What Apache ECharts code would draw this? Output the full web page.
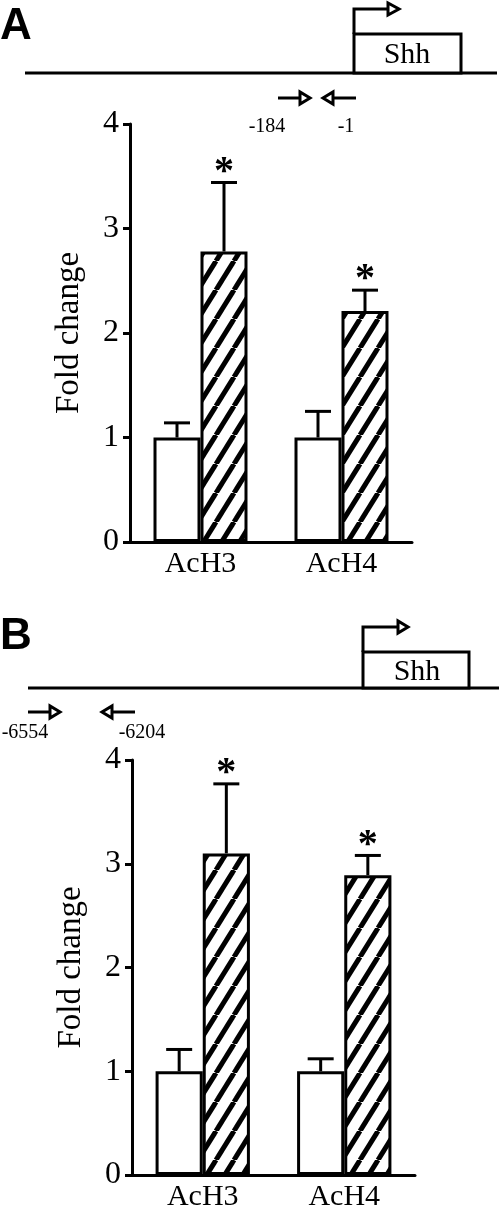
<!DOCTYPE html>
<html lang="en">
<head>
    <meta charset="UTF-8">
    <title>Shh ChIP fold change</title>
    <style>
        html, body { margin: 0; padding: 0; background: #fff; }
        #main { width: 500px; height: 1212px; }
    </style>
</head>
<body>
    <div id="main"></div>
    <script src="https://cdn.jsdelivr.net/npm/echarts@6/dist/echarts.min.js"></script>
    <script>
        // data
        var categories = ['AcH3', 'AcH4'];
        var yTicks = [0, 1, 2, 3, 4];

        // panel A: promoter region (-184 / -1)
        var aControl = [1.0, 1.0];
        var aControlErr = [0.14, 0.25];
        var aTreated = [2.78, 2.21];
        var aTreatedErr = [0.66, 0.20];
        var aSignif = [1, 1];

        // panel B: upstream region (-6554 / -6204)
        var bControl = [1.0, 1.0];
        var bControlErr = [0.21, 0.12];
        var bTreated = [3.10, 2.89];
        var bTreatedErr = [0.67, 0.19];
        var bSignif = [1, 1];

        var serif = '"Liberation Serif", "Times New Roman", serif';

        /* hatch tile: "/" stripes */
        function makeHatch() {
            var w = 18, h = 29;
            var c = document.createElement('canvas');
            c.width = w; c.height = h;
            var ctx = c.getContext('2d');
            ctx.fillStyle = '#fff';
            ctx.fillRect(0, 0, w, h);
            ctx.strokeStyle = '#000';
            ctx.lineWidth = 5;
            [-w, 0, w].forEach(function (dx) {
                ctx.beginPath();
                ctx.moveTo(dx, h);
                ctx.lineTo(dx + w, 0);
                ctx.stroke();
            });
            return c;
        }
        var hatch = { image: makeHatch(), repeat: 'repeat' };

        function errRows(ctrl, ctrlErr, trt, trtErr, sig) {
            var rows = [];
            for (var i = 0; i < categories.length; i++) {
                rows.push([i, 0, ctrl[i], ctrlErr[i], 0]);
                rows.push([i, 1, trt[i], trtErr[i], sig[i]]);
            }
            return rows;
        }

        function renderErr(params, api) {
            var cat = api.value(0), side = api.value(1);
            var mean = api.value(2), err = api.value(3), sig = api.value(4);
            var band = api.size([1, 0])[0];
            var cx = api.coord([cat, 0])[0] + (side === 0 ? -1 : 1) * band / 6;
            var yBase = api.coord([cat, mean])[1];
            var yTop = api.coord([cat, mean + err])[1];
            var ls = { stroke: '#000', lineWidth: 3 };
            var kids = [
                { type: 'line', shape: { x1: cx, y1: yBase, x2: cx, y2: yTop }, style: ls },
                { type: 'line', shape: { x1: cx - 13, y1: yTop, x2: cx + 13, y2: yTop }, style: ls }
            ];
            if (sig) {
                kids.push({
                    type: 'text',
                    style: {
                        text: '*', x: cx, y: yTop - 10,
                        font: 'bold 40px ' + serif, fill: '#000',
                        textAlign: 'center', textVerticalAlign: 'middle',
                        align: 'center', verticalAlign: 'middle'
                    }
                });
            }
            return { type: 'group', children: kids };
        }

        function yAxisCfg(gi) {
            return {
                type: 'value', gridIndex: gi,
                min: yTicks[0], max: yTicks[yTicks.length - 1], interval: 1,
                name: 'Fold change', nameLocation: 'middle', nameGap: 44,
                nameTextStyle: { fontFamily: serif, fontSize: 33, color: '#000' },
                splitLine: { show: false },
                axisLine: { show: true, lineStyle: { color: '#000', width: 3 } },
                axisTick: { show: true, length: 7, lineStyle: { color: '#000', width: 3 } },
                axisLabel: { fontFamily: serif, fontSize: 32, color: '#000', margin: 11 }
            };
        }

        function xAxisCfg(gi) {
            return {
                type: 'category', gridIndex: gi, data: categories,
                axisTick: { show: false },
                axisLine: { lineStyle: { color: '#000', width: 3 } },
                axisLabel: { fontFamily: serif, fontSize: 30, color: '#000', margin: 7 }
            };
        }

        function barSeries(gi, vals, filled) {
            return {
                type: 'bar', xAxisIndex: gi, yAxisIndex: gi,
                data: vals, barWidth: '33.33%', barGap: '0%',
                silent: true,
                itemStyle: { color: filled ? hatch : '#fff', borderColor: '#000', borderWidth: 3 }
            };
        }

        function errSeries(gi, rows) {
            return {
                type: 'custom', xAxisIndex: gi, yAxisIndex: gi,
                data: rows, renderItem: renderErr, clip: false, z: 5, silent: true
            };
        }

        /* gene diagrams */
        var thick = { stroke: '#000', lineWidth: 3, fill: null };
        function tri(pts) {
            return { type: 'polygon', shape: { points: pts }, style: { stroke: '#000', lineWidth: 3, fill: '#fff' } };
        }
        function txt(s, x, y, font, align) {
            return {
                type: 'text',
                style: {
                    text: s, x: x, y: y, font: font, fill: '#000',
                    textAlign: align || 'center', textVerticalAlign: 'middle',
                    align: align || 'center', verticalAlign: 'middle'
                }
            };
        }
        var small = '20px ' + serif;
        var gene = '30px ' + serif;
        var letter = 'bold 44px "Liberation Sans", Arial, sans-serif';

        var graphics = [
            // panel A
            txt('A', 0, 27, letter, 'left'),
            { type: 'line', shape: { x1: 25, y1: 73, x2: 497, y2: 73 }, style: thick },
            { type: 'rect', shape: { x: 354, y: 34, width: 107, height: 39 }, style: { stroke: '#000', lineWidth: 3, fill: '#fff' } },
            { type: 'polyline', shape: { points: [[354, 34], [354, 9], [388, 9]] }, style: thick },
            tri([[388, 3], [388, 15], [399, 9]]),
            txt('Shh', 407, 55, gene),
            { type: 'line', shape: { x1: 278, y1: 98, x2: 300, y2: 98 }, style: thick },
            tri([[300, 92], [300, 104], [310, 98]]),
            { type: 'line', shape: { x1: 356, y1: 98, x2: 333, y2: 98 }, style: thick },
            tri([[333, 92], [333, 104], [323, 98]]),
            txt('-184', 267, 127, small),
            txt('-1', 346, 127, small),

            // panel B
            txt('B', 0, 637, letter, 'left'),
            { type: 'line', shape: { x1: 28, y1: 688, x2: 499, y2: 688 }, style: thick },
            { type: 'rect', shape: { x: 363, y: 652, width: 106, height: 36 }, style: { stroke: '#000', lineWidth: 3, fill: '#fff' } },
            { type: 'polyline', shape: { points: [[363, 652], [363, 627], [398, 627]] }, style: thick },
            tri([[398, 621], [398, 633], [408, 627]]),
            txt('Shh', 417, 672, gene),
            { type: 'line', shape: { x1: 28, y1: 712, x2: 50, y2: 712 }, style: thick },
            tri([[50, 706], [50, 718], [60, 712]]),
            { type: 'line', shape: { x1: 135, y1: 712, x2: 112, y2: 712 }, style: thick },
            tri([[112, 706], [112, 718], [102, 712]]),
            txt('-6554', 25, 733, small),
            txt('-6204', 142, 733, small)
        ];

        var myChart = echarts.init(document.getElementById('main'));
        var option = {
            animation: false,
            backgroundColor: '#fff',
            grid: [
                { left: 130, right: 88, top: 124, height: 418 },
                { left: 132, right: 85, top: 760, height: 416 }
            ],
            xAxis: [xAxisCfg(0), xAxisCfg(1)],
            yAxis: [yAxisCfg(0), yAxisCfg(1)],
            series: [
                barSeries(0, aControl, false),
                barSeries(0, aTreated, true),
                errSeries(0, errRows(aControl, aControlErr, aTreated, aTreatedErr, aSignif)),
                barSeries(1, bControl, false),
                barSeries(1, bTreated, true),
                errSeries(1, errRows(bControl, bControlErr, bTreated, bTreatedErr, bSignif))
            ],
            graphic: graphics
        };
        myChart.setOption(option);
    </script>
</body>
</html>
